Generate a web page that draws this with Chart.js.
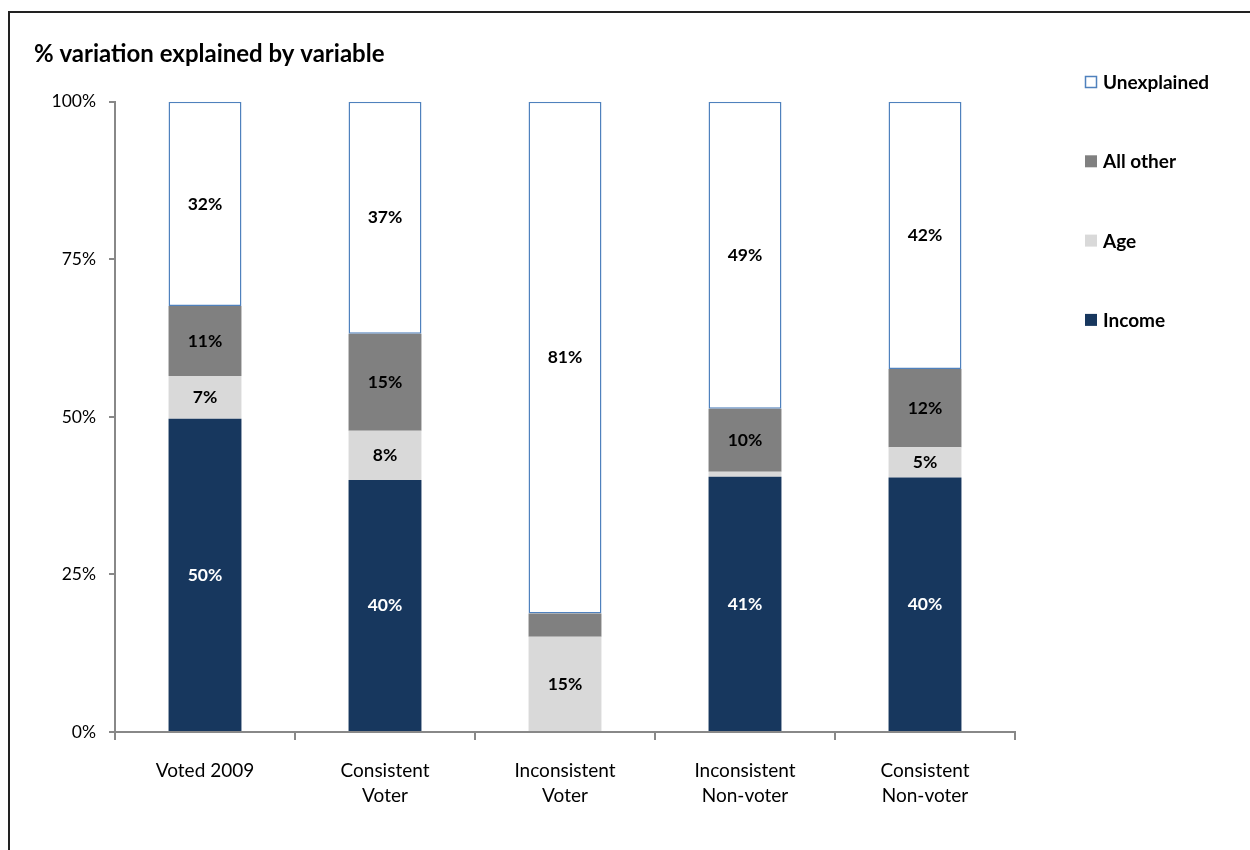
<!DOCTYPE html>
<html>
<head>
<meta charset="utf-8">
<script src="https://cdn.jsdelivr.net/npm/chart.js@4/dist/chart.umd.min.js"></script>
<style>
    body { margin: 0; background: #fff; }
    #wrap { position: relative; width: 1250px; height: 850px; overflow: hidden; }
    #frame { position: absolute; left: 8px; top: 11px; width: 1300px; height: 900px; border: 2px solid #222; box-sizing: border-box; }
    canvas { position: absolute; left: 0; top: 0; }
</style>
</head>
<body>
<div id="wrap">
    <div id="frame"></div>
    <canvas id="variationCanvas" width="1250" height="850"></canvas>
</div>
<script>
const groups = [
    "Voted 2009",
    ["Consistent", "Voter"],
    ["Inconsistent", "Voter"],
    ["Inconsistent", "Non-voter"],
    ["Consistent", "Non-voter"]
];

// share of variation (%) per group
const income      = [49.7, 40.0,  0.0, 40.5, 40.4];
const age         = [ 6.8,  7.8, 15.1,  0.8,  4.8];
const allOther    = [11.1, 15.4,  3.7, 10.0, 12.4];
const unexplained = [32.4, 36.8, 81.2, 48.7, 42.4];

const yTicks = [0, 25, 50, 75, 100];

const fontFamily = "Lato, 'Open Sans', sans-serif";

// value labels in the middle of each segment
const segmentLabels = {
    id: "segmentLabels",
    afterDatasetsDraw(chart) {
        const ctx = chart.ctx;
        ctx.save();
        ctx.font = "bold 17.5px " + fontFamily;
        ctx.textAlign = "center";
        ctx.textBaseline = "middle";
        chart.data.datasets.forEach((ds, i) => {
            const meta = chart.getDatasetMeta(i);
            meta.data.forEach((bar, j) => {
                const v = ds.data[j];
                if (v < 4) return;
                ctx.fillStyle = ds.labelColor;
                ctx.fillText(Math.round(v) + "%", bar.x, (bar.y + bar.base) / 2);
            });
        });
        ctx.restore();
    }
};

// legend drawn in the right margin, top item first
const sideLegend = {
    id: "sideLegend",
    afterDraw(chart) {
        const ctx = chart.ctx;
        const items = chart.data.datasets.slice().reverse();
        ctx.save();
        ctx.font = "bold 19px " + fontFamily;
        ctx.textBaseline = "middle";
        items.forEach((ds, k) => {
            const y = 82 + k * 79.3;
            ctx.fillStyle = ds.backgroundColor;
            ctx.fillRect(1085, y - 6, 12, 12);
            if (ds.borderWidth) {
                ctx.strokeStyle = ds.borderColor;
                ctx.lineWidth = 1.5;
                ctx.strokeRect(1085.5, y - 5.5, 11, 11);
            }
            ctx.fillStyle = "#000";
            ctx.fillText(ds.label, 1103, y + 1);
        });
        ctx.restore();
    }
};

new Chart(document.querySelector("#variationCanvas"), {
    type: "bar",
    data: {
        labels: groups,
        datasets: [
            { label: "Income", data: income, backgroundColor: "#17375e", labelColor: "#fff", borderWidth: 0 },
            { label: "Age", data: age, backgroundColor: "#d9d9d9", labelColor: "#000", borderWidth: 0 },
            { label: "All other", data: allOther, backgroundColor: "#808080", labelColor: "#000", borderWidth: 0 },
            { label: "Unexplained", data: unexplained, backgroundColor: "#ffffff", labelColor: "#000",
              borderColor: "#4f81bd", borderWidth: 1.5, borderSkipped: false }
        ]
    },
    options: {
        responsive: false,
        animation: false,
        devicePixelRatio: 1,
        datasets: {
            bar: { barPercentage: 0.405, categoryPercentage: 1 }
        },
        layout: {
            padding: { left: 34, right: 235, top: 0, bottom: 0 }
        },
        plugins: {
            legend: { display: false },
            tooltip: { enabled: false },
            title: {
                display: true,
                text: "% variation explained by variable",
                align: "start",
                color: "#000",
                font: { family: fontFamily, size: 24, weight: "bold", lineHeight: 1.2 },
                padding: { top: 40, bottom: 33 }
            }
        },
        scales: {
            x: {
                stacked: true,
                afterFit(scale) { scale.height = 118; },
                border: { color: "#888", width: 2 },
                grid: { drawOnChartArea: false, drawTicks: true, tickLength: 8, color: "#888", lineWidth: 2 },
                ticks: {
                    color: "#000",
                    padding: 18,
                    maxRotation: 0,
                    font: { family: fontFamily, size: 19, lineHeight: 1.32 }
                }
            },
            y: {
                stacked: true,
                min: 0,
                max: 100,
                afterFit(scale) { scale.width = 81; },
                afterBuildTicks(scale) { scale.ticks = yTicks.map(v => ({ value: v })); },
                border: { color: "#888", width: 2 },
                grid: { drawOnChartArea: false, drawTicks: true, tickLength: 6, color: "#888", lineWidth: 2 },
                ticks: {
                    color: "#000",
                    padding: 13,
                    font: { family: fontFamily, size: 17.5 },
                    callback: v => v + "%"
                }
            }
        }
    },
    plugins: [segmentLabels, sideLegend]
});
</script>
</body>
</html>
